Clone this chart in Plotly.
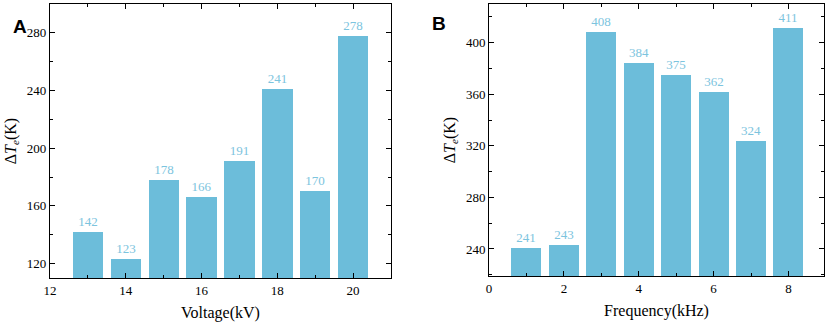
import plotly.graph_objects as go

voltage = [13, 14, 15, 16, 17, 18, 19, 20]
dTe_voltage = [142, 123, 178, 166, 191, 241, 170, 278]
frequency = [1, 2, 3, 4, 5, 6, 7, 8]
dTe_freq = [241, 243, 408, 384, 375, 362, 324, 411]

bar_color = "#6CBDDA"
label_color = "#7CC4DE"
serif = "Liberation Serif"

fig = go.Figure()
fig.add_trace(go.Bar(x=voltage, y=dTe_voltage, width=0.8, marker_color=bar_color,
                     marker_line_width=0, text=[str(v) for v in dTe_voltage],
                     textposition="outside", cliponaxis=False,
                     textfont=dict(family=serif, size=13, color=label_color),
                     xaxis="x", yaxis="y"))
fig.add_trace(go.Bar(x=frequency, y=dTe_freq, width=0.8, marker_color=bar_color,
                     marker_line_width=0, text=[str(v) for v in dTe_freq],
                     textposition="outside", cliponaxis=False,
                     textfont=dict(family=serif, size=13, color=label_color),
                     xaxis="x2", yaxis="y2"))

axis_common = dict(showline=True, linecolor="black", linewidth=1, mirror="allticks",
                   ticks="inside", ticklen=5, tickwidth=1, tickcolor="black",
                   showgrid=False, zeroline=False, automargin=False,
                   tickfont=dict(family=serif, size=13, color="black"),
                   minor=dict(ticks="inside", ticklen=3, tickwidth=1, tickcolor="black", showgrid=False))

ytitle = "Δ<i>T</i><sub><i>e</i></sub>(K)"
tfont = dict(family=serif, size=16, color="black")

fig.update_layout(
    width=830, height=328, margin=dict(l=0, r=0, t=0, b=0),
    font=dict(family=serif, color="black"),
    plot_bgcolor="white", paper_bgcolor="white", showlegend=False, bargap=0,
    xaxis=dict(domain=[0.0602, 0.4711], range=[12, 21], tickvals=[12, 14, 16, 18, 20],
               minor_dtick=1, anchor="y",
               title=dict(text="Voltage(kV)", font=tfont, standoff=10),
               **axis_common),
    yaxis=dict(domain=[0.1524, 0.9878], range=[110, 300], tickvals=[120, 160, 200, 240, 280],
               minor_dtick=20, anchor="x",
               title=dict(text=ytitle, font=tfont, standoff=6),
               **axis_common),
    xaxis2=dict(domain=[0.5892, 0.9928], range=[0, 8.95], tickvals=[0, 2, 4, 6, 8],
                minor_dtick=1, anchor="y2",
                title=dict(text="Frequency(kHz)", font=tfont, standoff=10),
                **axis_common),
    yaxis2=dict(domain=[0.1585, 0.9878], range=[219, 430], tickvals=[240, 280, 320, 360, 400],
                minor_dtick=20, anchor="x2",
                title=dict(text=ytitle, font=tfont, standoff=6),
                **axis_common),
    annotations=[
        dict(text="<b>A</b>", x=11 / 830, y=1 - 14 / 328, xref="paper", yref="paper", showarrow=False,
             font=dict(family="Liberation Sans", size=19, color="black")),
        dict(text="<b>B</b>", x=439 / 830, y=1 - 11 / 328, xref="paper", yref="paper", showarrow=False,
             font=dict(family="Liberation Sans", size=19, color="black")),
    ],
)

fig.write_html("out.html", config={"displayModeBar": False},
               post_script="document.body.style.margin='0';document.body.style.padding='0';")
